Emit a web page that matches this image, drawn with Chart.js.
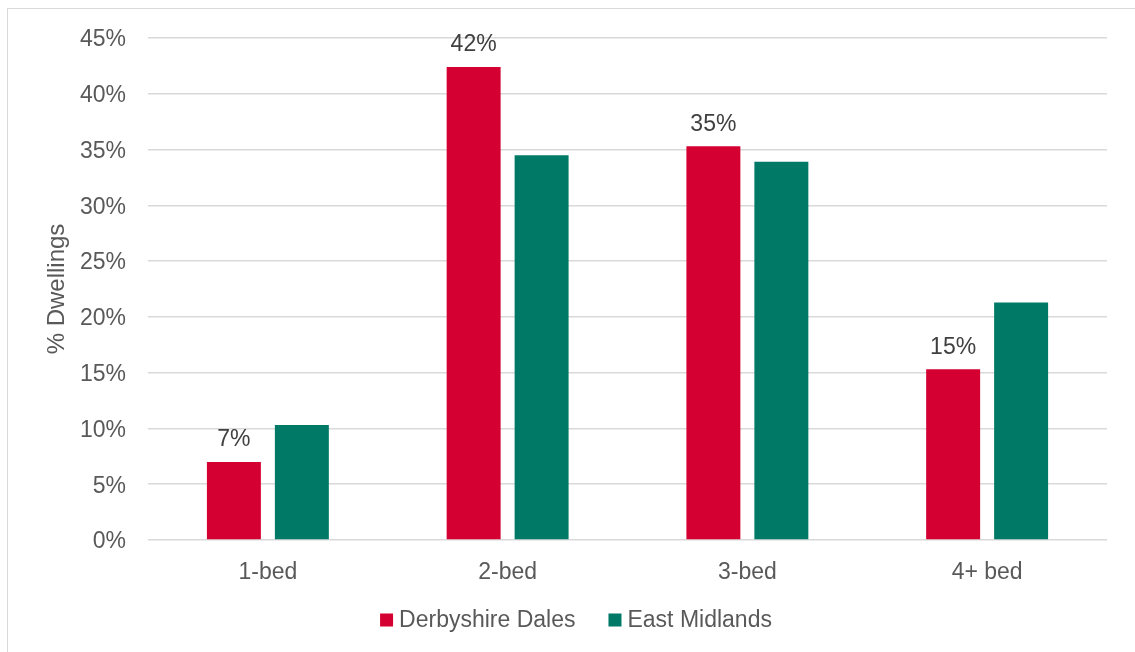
<!DOCTYPE html>
<html>
<head>
<meta charset="utf-8">
<script src="https://cdn.jsdelivr.net/npm/chart.js@4/dist/chart.umd.min.js"></script>
<style>
  html, body { margin: 0; padding: 0; background: #fff; }
  #wrap { position: relative; width: 1135px; height: 652px; overflow: hidden; }
  #frame { position: absolute; left: 7px; top: 8px; width: 1140px; height: 660px; border: 1.5px solid #d9d9d9; box-sizing: border-box; pointer-events: none; }
  canvas { position: absolute; left: 0; top: 0; }
</style>
</head>
<body>
<div id="wrap">
  <div id="frame"></div>
  <canvas id="c" width="1135" height="652"></canvas>
</div>
<script>
const categories = ["1-bed", "2-bed", "3-bed", "4+ bed"];
const derbyshireDales = [7.0, 42.4, 35.3, 15.3];
const eastMidlands = [10.3, 34.5, 33.9, 21.3];
const seriesNames = ["Derbyshire Dales", "East Midlands"];
const seriesColors = ["#D50032", "#007A66"];
const yTicks = [0, 5, 10, 15, 20, 25, 30, 35, 40, 45];

const FONT = "'Liberation Sans', Arial, sans-serif";

const labelPlugin = {
  id: 'redLabels',
  afterDatasetsDraw(chart) {
    const ctx = chart.ctx;
    const meta = chart.getDatasetMeta(0);
    ctx.save();
    ctx.font = "23px " + FONT;
    ctx.fillStyle = "#404040";
    ctx.textAlign = "center";
    ctx.textBaseline = "middle";
    meta.data.forEach((bar, i) => {
      ctx.fillText(Math.round(derbyshireDales[i]) + "%", bar.x, bar.y - 22);
    });
    ctx.restore();
  }
};

const legendPlugin = {
  id: 'customLegend',
  afterDraw(chart) {
    const ctx = chart.ctx;
    ctx.save();
    ctx.font = "23px " + FONT;
    ctx.textBaseline = "middle";
    ctx.textAlign = "left";
    const box = 13, gapText = 6, gapItem = 33, cy = 620, cx = 576;
    const widths = chart.data.datasets.map(ds => box + gapText + ctx.measureText(ds.label).width);
    const total = widths.reduce((a, b) => a + b, 0) + gapItem * (widths.length - 1);
    let x = cx - total / 2;
    chart.data.datasets.forEach((ds, i) => {
      ctx.fillStyle = ds.backgroundColor;
      ctx.fillRect(x, cy - box / 2, box, box);
      ctx.fillStyle = '#595959';
      ctx.fillText(ds.label, x + box + gapText, cy + 1);
      x += widths[i] + gapItem;
    });
    ctx.restore();
  }
};

new Chart(document.getElementById('c'), {
  type: 'bar',
  data: {
    labels: categories,
    datasets: [
      { label: seriesNames[0], data: derbyshireDales, backgroundColor: seriesColors[0], categoryPercentage: 0.567, barPercentage: 0.794 },
      { label: seriesNames[1], data: eastMidlands, backgroundColor: seriesColors[1], categoryPercentage: 0.567, barPercentage: 0.794 }
    ]
  },
  options: {
    responsive: false,
    animation: false,
    devicePixelRatio: 1,
    layout: { padding: { left: 43, right: 28, top: 38, bottom: 50 } },
    plugins: {
      tooltip: { enabled: false },
      legend: { display: false }
    },
    scales: {
      x: {
        grid: { display: false, drawTicks: false },
        border: { display: false },
        ticks: { font: { family: FONT, size: 23 }, color: '#595959', padding: 19 },
        afterFit(scale) { scale.height = 62; }
      },
      y: {
        min: 0, max: 45,
        afterBuildTicks(scale) { scale.ticks = yTicks.map(v => ({ value: v })); },
        grid: { color: '#d9d9d9', lineWidth: 1.5, drawTicks: false },
        border: { display: false },
        ticks: { font: { family: FONT, size: 23 }, color: '#595959', padding: 22, labelOffset: 2, callback: v => v + '%' },
        title: { display: true, text: '% Dwellings', font: { family: FONT, size: 24 }, color: '#595959', padding: { top: 0, bottom: 0 } },
        afterFit(scale) { scale.width = 148 - 43; }
      }
    }
  },
  plugins: [labelPlugin, legendPlugin]
});
</script>
</body>
</html>
